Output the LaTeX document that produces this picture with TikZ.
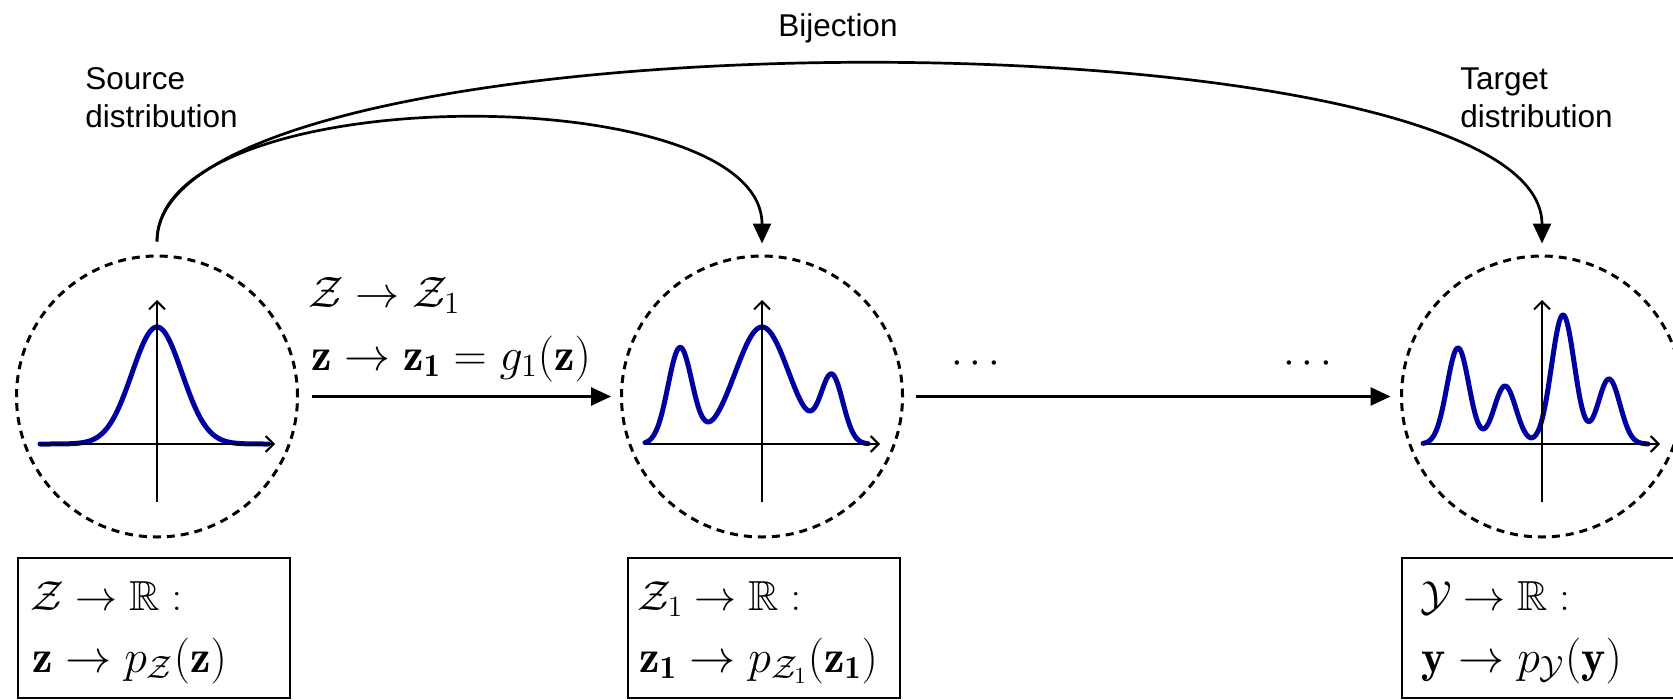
\RequirePackage{fix-cm}
\documentclass[tikz,border=0pt]{standalone}
\usepackage{amssymb}
\usepackage{fontspec}
\newfontfamily\labelfont{Liberation Sans}
\usetikzlibrary{arrows.meta}
\definecolor{pdfblue}{RGB}{0,0,160}
\begin{document}
\begin{tikzpicture}[x=0.5pt,y=-0.5pt,
  declare function={gs(\t,\m,\s)=exp(-min(0.5*((\t-\m)/\s)^2,15));},
  dist/.style={circle,draw,line width=1.5pt,dash pattern=on 4pt off 3pt,minimum size=140.5pt,inner sep=0pt},
  axis/.style={line width=1pt,-{Straight Barb[length=4pt,width=8pt]}},
  pdf/.style={draw=pdfblue,line width=2.5pt,line join=round,line cap=round},
  arr/.style={line width=1.35pt,-{Triangle[length=10pt,width=9pt]}},
  fbox/.style={draw,line width=1.3pt,minimum width=136pt,minimum height=70pt,inner sep=0pt},
  mlab/.style={inner sep=0pt,anchor=base west,font=\fontsize{22}{26}\selectfont},
  mlabb/.style={inner sep=0pt,anchor=base west,font=\fontsize{23}{27}\selectfont},
  blab/.style={inner sep=0pt,anchor=base west,font=\fontsize{21}{25}\selectfont},
  blabb/.style={inner sep=0pt,anchor=base west,font=\fontsize{23}{27}\selectfont},
  slab/.style={inner sep=0pt,align=left,font=\labelfont\fontsize{15.75}{19}\selectfont},
  dotlab/.style={inner sep=0pt,anchor=base,font=\fontsize{21}{25}\selectfont}
]
\useasboundingbox (0,0) rectangle (1673,700);

% distributions (circles)
\node[dist] (c1) at (157,396.5) {};
\node[dist] (c2) at (762,396.5) {};
\node[dist] (c3) at (1542,396.5) {};

% density curves
\draw[pdf] plot[domain=40:268,samples=160] (\x,{444-117*gs(\x,157,25)});
\draw[pdf] plot[domain=645:868,samples=220]
  (\x,{444-95.5*gs(\x,680,12)-117*gs(\x,762,27)-66*gs(\x,832,11)});
\draw[pdf] plot[domain=1423:1648,samples=240]
  (\x,{444-96*gs(\x,1458,11)-58*gs(\x,1505,11)-129*gs(\x,1563,11.5)-65*gs(\x,1609,11)});

% axes
\foreach \cx in {157,762,1542}{
  \draw[axis] (\cx-117,444) -- (\cx+118,444);
  \draw[axis] (\cx,502) -- (\cx,300);
}

% flow arrows
\draw[arr,shorten <=6.5pt,shorten >=4.5pt] (c1) -- (c2);
\draw[arr,shorten <=6pt,shorten >=4.75pt] (c2) -- (c3);

% bijection arcs
\draw[arr,shorten <=6.5pt,shorten >=5.5pt] (c1.north) .. controls +(0,-177) and +(0,-177) .. (c2.north);
\draw[arr,shorten <=6.5pt,shorten >=5.5pt] (c1.north) .. controls +(0,-249) and +(0,-249) .. (c3.north);

% labels
\node[slab,anchor=base] (bij) at (838,37) {Bijection};
\node[slab,anchor=north west] (src) at (85,67) {Source\\distribution};
\node[slab,anchor=north west] (tgt) at (1460,67) {Target\\distribution};

\node[mlab] (l1) at (308,307) {$\mathcal{Z}\rightarrow\mathcal{Z}_1$};
\node[mlabb] (l2) at (311,370) {$\mathbf{z}\rightarrow\mathbf{z_1}=g_1(\mathbf{z})$};
\node[dotlab] (d1) at (975.5,373.5) {$\cdots$};
\node[dotlab] (d2) at (1307.5,373.5) {$\cdots$};

% boxes
\node[fbox] (b1) at (154,628) {};
\node[fbox] (b2) at (764,628) {};
\node[fbox] (b3) at (1538,628) {};
\node[blab] (b1a) at (30,610) {$\mathcal{Z}\rightarrow\mathbb{R}:$};
\node[blabb] (b1b) at (32,672) {$\mathbf{z}\rightarrow p_{\mathcal{Z}}(\mathbf{z})$};
\node[blab] (b2a) at (637,610) {$\mathcal{Z}_1\rightarrow\mathbb{R}:$};
\node[blabb] (b2b) at (639,672) {$\mathbf{z_1}\rightarrow p_{\mathcal{Z}_1}(\mathbf{z_1})$};
\node[blab] (b3a) at (1420,610) {$\mathcal{Y}\rightarrow\mathbb{R}:$};
\node[blabb] (b3b) at (1421,672) {$\mathbf{y}\rightarrow p_{\mathcal{Y}}(\mathbf{y})$};
\end{tikzpicture}
\end{document}
